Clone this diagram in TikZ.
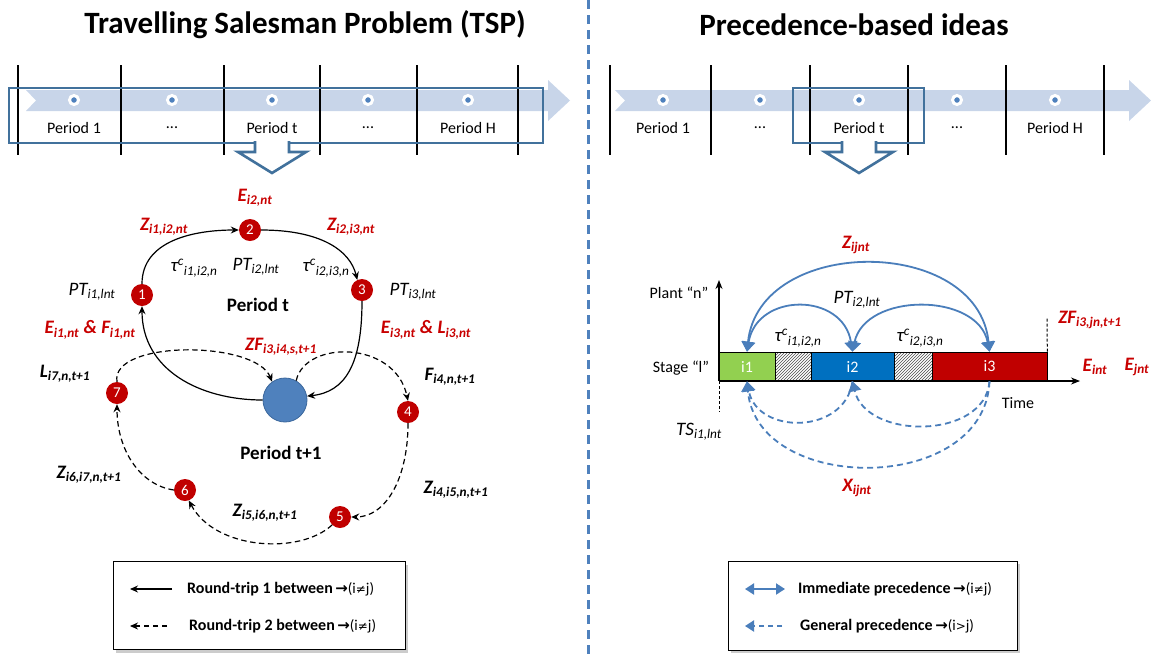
\documentclass[tikz,border=0pt]{standalone}
\usepackage{fontspec}
\setmainfont{Carlito}
\newfontfamily\dvfont{DejaVu Sans}
\usetikzlibrary{arrows.meta,shadows,patterns}
\definecolor{bandc}{HTML}{C8D5E9}
\definecolor{framec}{HTML}{41719C}
\definecolor{dotc}{HTML}{4F81BD}
\definecolor{redn}{HTML}{C00000}
\definecolor{labred}{HTML}{C80000}
\definecolor{circc}{HTML}{4F81BD}
\definecolor{circd}{HTML}{3B679C}
\definecolor{arcc}{HTML}{4A7EBB}
\definecolor{greenc}{HTML}{92D050}
\definecolor{bluec}{HTML}{0070C0}
\definecolor{divc}{HTML}{4F81BD}
\newcommand{\sbs}[2]{#1\textsubscript{#2}}
\newcommand{\tauc}[1]{τ\textsuperscript{c}\textsubscript{#1}}
\newcommand{\neqarrow}[1]{{\dvfont\fontsize{15}{16}\selectfont\,→}{\mdseries\fontsize{15}{16}\selectfont(i{\dvfont\fontsize{12}{14}\selectfont #1}j)}}
\begin{document}
\begin{tikzpicture}[x=1pt,y=-1pt,
  titlest/.style={font=\fontsize{31}{34}\selectfont\bfseries, inner sep=0},
  perlab/.style={font=\fontsize{16}{18}\selectfont, inner sep=0},
  vline/.style={line width=1.4pt, black},
  frame/.style={draw=framec, line width=2.6pt},
  dotst/.style={circle, fill=dotc, draw=white, line width=3pt, minimum size=9pt, inner sep=0},
  rn/.style={circle, fill=redn, minimum size=22pt, inner sep=0, text=white, font=\fontsize{15}{15}\selectfont},
  bc/.style={circle, fill=circc, draw=circd, line width=0.8pt, minimum size=44pt, inner sep=0},
  solidar/.style={-{Stealth[length=8pt,width=7pt]}, line width=1.2pt},
  dashar/.style={solidar, dash pattern=on 5.5pt off 3.5pt},
  redlab/.style={text=labred, font=\fontsize{19}{20}\selectfont\bfseries\itshape, inner sep=0},
  blklab/.style={font=\fontsize{19}{20}\selectfont\itshape, inner sep=0},
  blkbold/.style={font=\fontsize{19}{20}\selectfont\bfseries\itshape, inner sep=0},
  boldlab/.style={font=\fontsize{19}{20}\selectfont\bfseries, inner sep=0},
  txt/.style={font=\fontsize{16}{18}\selectfont, inner sep=0},
  arcar/.style={{Triangle[width=13pt,length=10pt]}-{Triangle[width=13pt,length=10pt]}, draw=arcc, line width=1.8pt},
  darc/.style={-{Triangle[width=13pt,length=10pt]}, draw=arcc, line width=1.8pt, dash pattern=on 6pt off 4pt},
  barseg/.style={draw=black, line width=0.6pt, minimum height=29pt, inner sep=0, text=white, font=\fontsize{16}{18}\selectfont},
  hatch/.style={barseg, fill=gray!35, pattern=north east lines, pattern color=black!70},
  legbox/.style={draw=black, line width=1pt, fill=white, drop shadow={shadow xshift=3pt, shadow yshift=-3pt, opacity=.4}},
  legt/.style={font=\fontsize{16}{18}\selectfont\bfseries, inner sep=0, anchor=west}
]
\useasboundingbox (0,0) rectangle (1151,657);

% titles
\node[titlest] (t1) at (305,25) {Travelling Salesman Problem (TSP)};
\node[titlest] (t2) at (854,25) {Precedence-based ideas};

% divider
\coordinate (dv1) at (588,0);
\coordinate (dv2) at (588,657);
\draw[divc, line width=3pt, dash pattern=on 9pt off 6pt] (dv1) -- (dv2);

% left timeline
\fill[bandc] (26,90) -- (548,90) -- (548,80) -- (570,100.5) -- (548,121) -- (548,111) -- (26,111) -- (36,100.5) -- cycle;
\foreach \x in {18,121,224,320,417,518} \draw[vline] (\x,65) -- (\x,155);
\draw[frame] (9,88) rectangle (543,143);
\filldraw[frame, fill=white, line join=miter] (255,141) -- (255,152) -- (238,152) -- (272,173) -- (306,152) -- (289,152) -- (289,141);
\foreach \x/\n in {74/a,172/b,272/c,368/d,468/e} \node[dotst] (dl\n) at (\x,100) {};
\node[perlab] (pla) at (74,128) {Period 1};
\node[perlab] (plb) at (172,128) {...};
\node[perlab] (plc) at (272,128) {Period t};
\node[perlab] (pld) at (368,128) {...};
\node[perlab] (ple) at (468,128) {Period H};

% right timeline
\fill[bandc] (615,90) -- (1129,90) -- (1129,80) -- (1151,100.5) -- (1129,121) -- (1129,111) -- (615,111) -- (625,100.5) -- cycle;
\foreach \x in {610,711,810,908,1006,1104} \draw[vline] (\x,65) -- (\x,155);
\draw[frame] (793,88) rectangle (924,143);
\filldraw[frame, fill=white, line join=miter] (842,141) -- (842,152) -- (825,152) -- (859,173) -- (893,152) -- (876,152) -- (876,141);
\foreach \x/\n in {663/a,760/b,859/c,957/d,1055/e} \node[dotst] (dr\n) at (\x,100) {};
\node[perlab] (pra) at (663,128) {Period 1};
\node[perlab] (prb) at (760,128) {...};
\node[perlab] (prc) at (859,128) {Period t};
\node[perlab] (prd) at (957,128) {...};
\node[perlab] (pre) at (1055,128) {Period H};

% ===== left graph =====
\node[rn] (n1) at (142,295) {1};
\node[rn] (n2) at (250,230) {2};
\node[rn] (n3) at (362,290) {3};
\node[rn] (n4) at (408,412) {4};
\node[rn] (n5) at (340,517) {5};
\node[rn] (n6) at (185,490) {6};
\node[rn] (n7) at (117,393) {7};
\node[bc] (b) at (285,400) {};

\draw[solidar] (n1.north) .. controls (142,240) and (195,230) .. (n2.west);
\draw[solidar] (n2.east) .. controls (320,230) and (350,250) .. (n3.115);
\draw[solidar] (n3.south) .. controls (362,365) and (345,392) .. (b.10);
\draw[solidar] (b.west) .. controls (200,400) and (142,370) .. (n1.south);

\draw[dashar] (n7.north) .. controls (110,340) and (255,340) .. (b.125);
\draw[dashar] (b.60) .. controls (305,340) and (395,340) .. (n4.north);
\draw[dashar] (n4.south) .. controls (408,480) and (385,517) .. (n5.east);
\draw[dashar] (n5.225) .. controls (300,555) and (215,550) .. (n6.-70);
\draw[dashar] (n6.west) .. controls (140,485) and (117,450) .. (n7.south);

\node[redlab] (le2) at (255,198) {\sbs{E}{i2,nt}};
\node[redlab] (lz12) at (164,227) {\sbs{Z}{i1,i2,nt}};
\node[redlab] (lz23) at (351,227) {\sbs{Z}{i2,i3,nt}};
\node[blklab] (lt12) at (194,268) {\tauc{i1,i2,n}};
\node[blklab] (lpt2) at (256,267) {\sbs{PT}{i2,lnt}};
\node[blklab] (lt23) at (326,268) {\tauc{i2,i3,n}};
\node[blklab] (lpt1) at (92,292) {\sbs{PT}{i1,lnt}};
\node[blklab] (lpt3) at (413,292) {\sbs{PT}{i3,lnt}};
\node[boldlab] (lpt) at (258,305) {Period t};
\node[redlab] (lef1) at (90,330) {\sbs{E}{i1,nt} \& \sbs{F}{i1,nt}};
\node[redlab] (lel3) at (426,330) {\sbs{E}{i3,nt} \& \sbs{L}{i3,nt}};
\node[redlab] (lzf) at (281,347) {\sbs{ZF}{i3,i4,s,t+1}};
\node[blkbold] (ll7) at (65,374) {\sbs{L}{i7,n,t+1}};
\node[blkbold] (lf4) at (450,377) {\sbs{F}{i4,n,t+1}};
\node[boldlab] (lpt1b) at (281,453) {Period t+1};
\node[blkbold] (lz67) at (89,475) {\sbs{Z}{i6,i7,n,t+1}};
\node[blkbold] (lz45) at (456,490) {\sbs{Z}{i4,i5,n,t+1}};
\node[blkbold] (lz56) at (265,513) {\sbs{Z}{i5,i6,n,t+1}};

% ===== right graph =====
\coordinate (org) at (719,381);
\coordinate (ytop) at (719,280);
\coordinate (xend) at (1080,381);
\coordinate (dlow) at (719,412);
\node[barseg, fill=greenc, minimum width=56pt] (i1) at (747,366.5) {i1};
\node[hatch, minimum width=36pt] (h1) at (793,366.5) {};
\node[barseg, fill=bluec, minimum width=83pt] (i2) at (852.5,366.5) {i2};
\node[hatch, minimum width=38pt] (h2) at (913,366.5) {};
\node[barseg, fill=redn, minimum width=115pt] (i3) at (989.5,366.5) {i3};
\draw[line width=1.2pt, -{Stealth[length=9pt,width=7pt]}] (org) -- (ytop);
\draw[line width=1.2pt, -{Stealth[length=9pt,width=7pt]}] (org) -- (xend);
\draw[line width=1pt, dash pattern=on 3pt off 2pt] (org) -- (dlow);
\coordinate (zfl) at (1047,317);
\draw[line width=1pt, dash pattern=on 3pt off 2pt] (i3.north east) -- (zfl);

\draw[arcar] (i3.north) .. controls (978,235) and (759,235) .. (i1.north);
\draw[arcar] (i1.north) .. controls (757,292) and (843,292) .. (i2.north);
\draw[arcar] (i2.north) .. controls (865,292) and (978,292) .. (i3.north);
\draw[darc] (i3.south) .. controls (985,495) and (757,495) .. (i1.south);
\draw[darc] (i2.south) .. controls (845,435) and (757,435) .. (i1.south);
\draw[darc] (i3.south) .. controls (985,440) and (866,440) .. (i2.south);

\node[txt] (plant) at (679,293) {Plant “n”};
\node[txt] (stage) at (681,368) {Stage “l”};
\node[txt] (time) at (1018,403) {Time};
\node[blklab] (ts) at (699,432) {\sbs{TS}{i1,lnt}};
\node[redlab] (zij) at (856,245) {\sbs{Z}{ijnt}};
\node[blklab] (rpt) at (857,300) {\sbs{PT}{i2,lnt}};
\node[blklab] (rt1) at (798,338) {\tauc{i1,i2,n}};
\node[blklab] (rt2) at (920,338) {\tauc{i2,i3,n}};
\node[redlab] (rzf) at (1090,320) {\sbs{ZF}{i3,jn,t+1}};
\node[redlab] (rei) at (1095,367) {\sbs{E}{int}};
\node[redlab] (rej) at (1137,367) {\sbs{E}{jnt}};
\node[redlab] (rx) at (857,488) {\sbs{X}{ijnt}};

% ===== legends =====
\node[legbox, minimum width=292pt, minimum height=88pt] (lg1) at (259,605.5) {};
\coordinate (la1s) at (172,589);
\coordinate (la1e) at (130,589);
\draw[solidar] (la1s) -- (la1e);
\node[legt] (lt1) at (187,589) {Round-trip 1 between\neqarrow{≠}};
\coordinate (la2s) at (167,626);
\coordinate (la2e) at (130,626);
\draw[dashar] (la2s) -- (la2e);
\node[legt] (lt2) at (189,626) {Round-trip 2 between\neqarrow{≠}};

\node[legbox, minimum width=289pt, minimum height=89pt] (lg2) at (872.5,605.5) {};
\coordinate (lb1s) at (785,589);
\coordinate (lb1e) at (745,589);
\draw[arcc, line width=2pt, {Triangle[width=11pt,length=9pt]}-{Triangle[width=11pt,length=9pt]}] (lb1e) -- (lb1s);
\node[legt] (lt3) at (798,589) {Immediate precedence\neqarrow{≠}};
\coordinate (lb2s) at (782,626);
\coordinate (lb2e) at (745,626);
\draw[arcc, line width=2pt, dash pattern=on 5pt off 4pt, -{Triangle[width=11pt,length=9pt]}] (lb2s) -- (lb2e);
\node[legt] (lt4) at (800,626) {General precedence\neqarrow{>}};
\end{tikzpicture}
\end{document}
